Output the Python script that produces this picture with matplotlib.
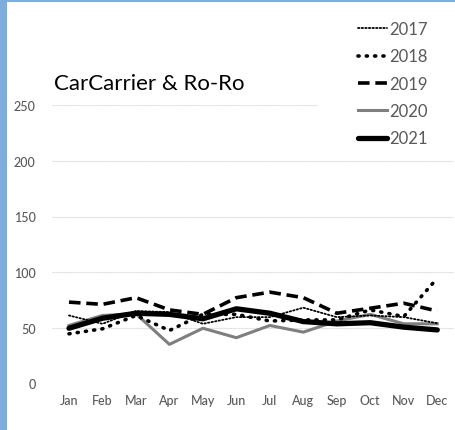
import matplotlib
matplotlib.use("Agg")
import matplotlib.pyplot as plt
from matplotlib.patches import Rectangle

months = ["Jan", "Feb", "Mar", "Apr", "May", "Jun", "Jul", "Aug", "Sep", "Oct", "Nov", "Dec"]
y2017 = [61, 53.5, 65, 64, 53.5, 59.5, 59.5, 68, 59.5, 61, 59.5, 54]
y2018 = [44.5, 49, 61, 47.5, 62, 62, 56, 57, 57, 66, 60, 94.5]
y2019 = [73, 71, 77, 66, 62, 77, 82, 77, 63, 67.5, 72, 65]
y2020 = [52, 61, 62.5, 35, 49.5, 41, 52, 46, 56, 62, 53.5, 53.5]
y2021 = [49.5, 58.5, 63, 62, 58, 67, 63, 55.5, 53.5, 54.5, 50.5, 48]
yticks = [0, 50, 100, 150, 200, 250]
title = "CarCarrier & Ro-Ro"

plt.rcParams['font.family'] = ['Lato', 'DejaVu Sans']

W, H = 456, 431
fig = plt.figure(figsize=(W / 100, H / 100), dpi=100)
fig.patch.set_facecolor("white")

left = 52.25 / W
right = 454 / W
bottom = 1 - 384.3 / H
top = 1 - 106.3 / H
ax = fig.add_axes([left, bottom, right - left, top - bottom])
ax.set_facecolor("white")

x = list(range(len(months)))
ax.plot(x, y2017, color="black", lw=1.3, linestyle=(0, (0.8, 1.2)), dash_capstyle="round", label="2017", zorder=3)
ax.plot(x, y2018, color="black", lw=2.6, linestyle=(0, (0.3, 2.0)), dash_capstyle="round", label="2018", zorder=3)
ax.plot(x, y2019, color="black", lw=2.6, linestyle=(0, (3.2, 1.6)), label="2019", zorder=3)
ax.plot(x, y2020, color="#7f7f7f", lw=2.2, label="2020", zorder=2)
ax.plot(x, y2021, color="black", lw=3.8, solid_capstyle="round", label="2021", zorder=4)

ax.set_xlim(-0.5, 11.5)
ax.set_ylim(0, 250)
ax.set_xticks(x)
ax.set_xticklabels(months)
ax.set_yticks(yticks)
ax.set_yticklabels([str(v) for v in yticks])
ax.tick_params(axis="both", length=0, labelsize=9, labelcolor="#595959")
ax.tick_params(axis="x", pad=8)
ax.tick_params(axis="y", pad=12)
for lbl in ax.get_xticklabels() + ax.get_yticklabels():
    lbl.set_fontweight("medium")
for s in ax.spines.values():
    s.set_visible(False)
ax.grid(axis="y", color="#d9d9d9", lw=0.8, linestyle=(0, (1, 0.5)))
ax.set_axisbelow(True)

fig.text(54 / W, 1 - 90 / H, title, fontsize=16, color="black", ha="left", va="baseline")

# white area behind legend
fig.add_artist(Rectangle((318 / W, 1 - 150 / H), 1, 150 / H, transform=fig.transFigure,
                         facecolor="white", edgecolor="none", zorder=3))

handles, labels = ax.get_legend_handles_labels()
leg = fig.legend(handles, labels, loc="upper left", bbox_to_anchor=(358 / W, 1 - 22 / H),
                 frameon=False, fontsize=12, handlelength=1.75, handletextpad=0.15,
                 labelspacing=0.68, borderpad=0, borderaxespad=0)
for t in leg.get_texts():
    t.set_color("#595959")
leg.set_zorder(5)

# blue border
fig.add_artist(Rectangle((0, 0), 7.5 / W, 1, transform=fig.transFigure,
                         facecolor="#7eaedc", edgecolor="none", zorder=10))
fig.add_artist(Rectangle((0, 1 - 3 / H), 1, 3 / H, transform=fig.transFigure,
                         facecolor="#7eaedc", edgecolor="none", zorder=10))

fig.savefig("out.png", dpi=100, facecolor="white")
